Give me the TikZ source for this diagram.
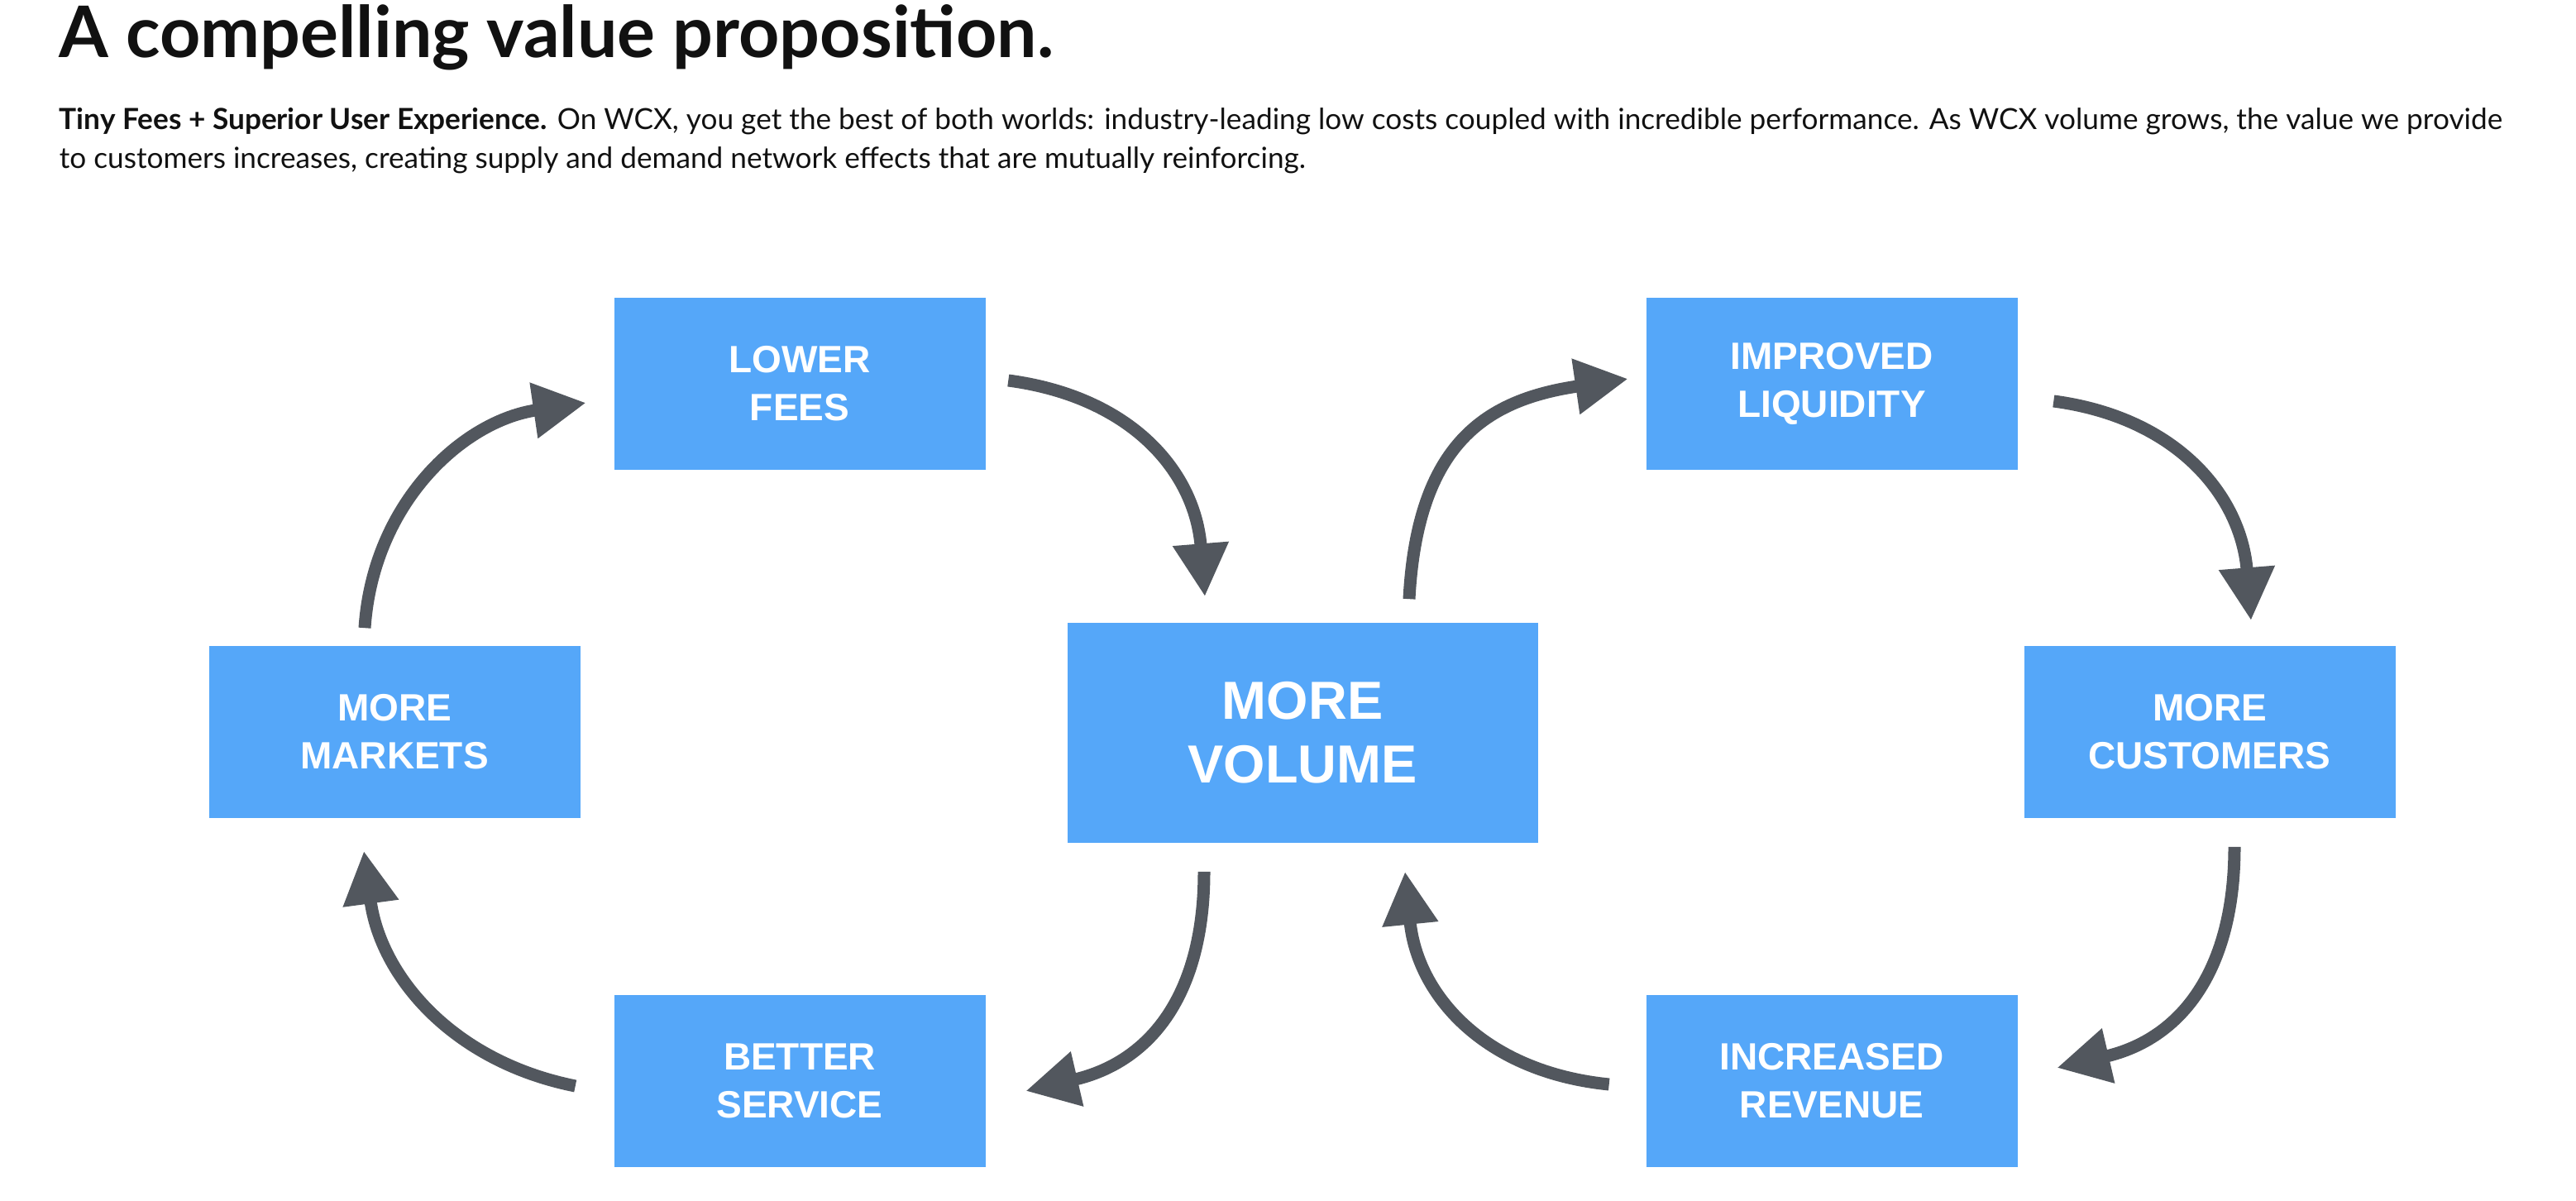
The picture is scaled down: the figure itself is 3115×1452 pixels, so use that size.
\documentclass[tikz,border=0pt]{standalone}
\usepackage{fontspec}
\setmainfont{Lato}
\newfontfamily\boxfont{Liberation Sans}
\usetikzlibrary{arrows.meta}
\definecolor{boxblue}{HTML}{55A7F9}
\definecolor{loopgray}{HTML}{52575E}
\definecolor{inkblack}{HTML}{111111}
\tikzset{
  box/.style={fill=boxblue, text=white, align=center, inner sep=0pt,
    minimum width=112.25pt, minimum height=52pt,
    font=\boxfont\bfseries\fontsize{11.5}{14.5}\selectfont},
  bigbox/.style={box, minimum width=142.25pt, minimum height=66.5pt,
    font=\boxfont\bfseries\fontsize{16.2}{19.3}\selectfont},
  feedback/.style={draw=loopgray, line width=3.75pt, -{Triangle[length=16pt,width=16pt]}}
}
\begin{document}
\begin{tikzpicture}[x=0.25pt,y=-0.25pt]
        \useasboundingbox (0,0) rectangle (3115,1452);
        % heading and intro
        \node[anchor=base west, inner sep=0pt, text=inkblack, font=\bfseries\fontsize{21.5}{25}\selectfont] (title) at (71,70) {A compelling value proposition.};
        \node[anchor=base west, inner sep=0pt, align=left, text=inkblack, font=\fontsize{8.8}{11.75}\selectfont] (intro) at (71,204) {\textbf{Tiny Fees + Superior User Experience.} On WCX, you get the best of both worlds: industry-leading low costs coupled with incredible performance. As WCX volume grows, the value we provide\\to customers increases, creating supply and demand network effects that are mutually reinforcing.};
        % boxes
        \node[box] (fees) at (967,464) {LOWER\\FEES};
        \node[box] (liquidity) at (2215,464) {IMPROVED\\LIQUIDITY};
        \node[box] (markets) at (477,885) {MORE\\MARKETS};
        \node[bigbox] (volume) at (1575,886) {MORE\\VOLUME};
        \node[box] (customers) at (2672,885) {MORE\\CUSTOMERS};
        \node[box] (service) at (967,1307) {BETTER\\SERVICE};
        \node[box] (revenue) at (2215,1307) {INCREASED\\REVENUE};
        % left loop
        \draw[feedback] ([shift={(-36,-21)}]markets.north) .. controls +(10,-150) and +(-150,22) .. ([shift={(-33,23)}]fees.west);
        \draw[feedback] ([shift={(27,-4)}]fees.east) .. controls +(150,20) and +(-12,-150) .. ([shift={(-118,-31)}]volume.north);
        \draw[feedback] ([shift={(-119,34)}]volume.south) .. controls +(0,150) and +(150,-35) .. ([shift={(48,12)}]service.east);
        \draw[feedback] ([shift={(-46,6)}]service.west) .. controls +(-150,-30) and +(20,150) .. ([shift={(-37,39)}]markets.south);
        % right loop
        \draw[feedback] ([shift={(129,-28)}]volume.north) .. controls +(10,-190) and +(-170,25) .. ([shift={(-21,-6)}]liquidity.west);
        \draw[feedback] ([shift={(43,21)}]liquidity.east) .. controls +(150,20) and +(-12,-150) .. ([shift={(50,-30)}]customers.north);
        \draw[feedback] ([shift={(30,34)}]customers.south) .. controls +(0,150) and +(150,-35) .. ([shift={(47,-16)}]revenue.east);
        \draw[feedback] ([shift={(-44,4)}]revenue.west) .. controls +(-150,-15) and +(15,150) .. ([shift={(124,34)}]volume.south);
\end{tikzpicture}
\end{document}
